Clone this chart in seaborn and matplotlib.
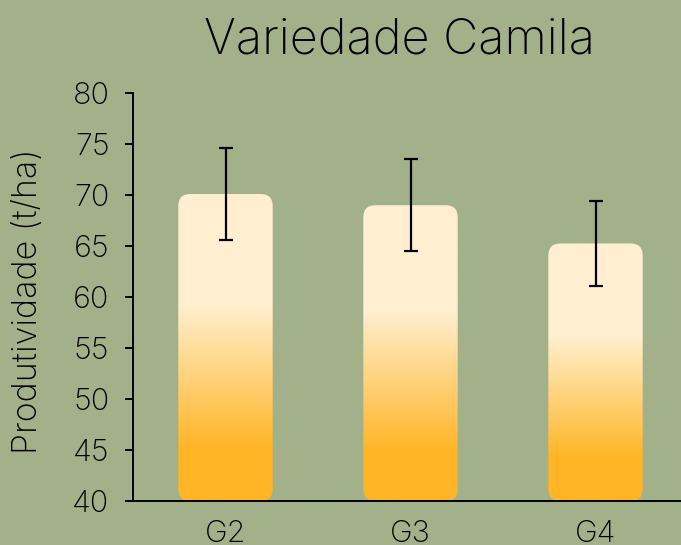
import numpy as np
import pandas as pd
import seaborn as sns
import matplotlib.pyplot as plt
from matplotlib.colors import LinearSegmentedColormap
from matplotlib.patches import FancyBboxPatch

# Data
grupos = ['G2', 'G3', 'G4']
produtividade = [70.1, 69.0, 65.25]
erro = [4.55, 4.5, 4.2]

df = pd.DataFrame({'grupo': grupos, 'produtividade': produtividade})

bg = '#A3B18A'
laranja = '#FFB526'
creme = '#FFEFD0'

sns.set_theme(style='ticks')
plt.rcParams['font.family'] = ['Inter', 'DejaVu Sans']

fig = plt.figure(figsize=(6.81, 5.45), dpi=100)
fig.patch.set_facecolor(bg)
ax = fig.add_axes([0.1953, 0.0807, 0.815, 0.7486])
ax.set_facecolor(bg)

sns.barplot(data=df, x='grupo', y='produtividade', width=0.51, color=laranja, ax=ax)

ax.set_xlim(-0.5, 2.5)
ax.set_ylim(40, 80)

# gradient colormap: orange at base, cream at top
cmap = LinearSegmentedColormap.from_list(
    'grad', [(0, laranja), (0.17, laranja), (0.64, creme), (1, creme)])
grad = np.linspace(0, 1, 256).reshape(-1, 1)

# rounded corners in pixel terms -> data units
px_x = 555 / 3.0
px_y = 408 / 40.0
raio = 12 / px_x
aspecto = px_x / px_y

for p in list(ax.patches):
    x0, w, h = p.get_x(), p.get_width(), p.get_height()
    p.set_visible(False)
    caixa = FancyBboxPatch((x0, 40), w, h - 40,
                           boxstyle=f'round,pad=0,rounding_size={raio}',
                           mutation_aspect=aspecto,
                           facecolor='none', edgecolor='none',
                           transform=ax.transData)
    ax.add_patch(caixa)
    im = ax.imshow(grad, extent=[x0, x0 + w, 40, h], origin='lower',
                   aspect='auto', cmap=cmap, zorder=2)
    im.set_clip_path(caixa)

ax.errorbar(range(len(grupos)), produtividade, yerr=erro, fmt='none',
            ecolor='black', elinewidth=1.6, capsize=5, capthick=1.6, zorder=3)

ax.set_xlim(-0.5, 2.5)
ax.set_ylim(40, 80)
ax.set_yticks(range(40, 81, 5))

sns.despine(ax=ax)
for s in ['left', 'bottom']:
    ax.spines[s].set_linewidth(1.4)
    ax.spines[s].set_color('black')

ax.tick_params(axis='y', length=6, width=1.4, labelsize=22, pad=11, colors='black')
ax.tick_params(axis='x', length=0, labelsize=22, pad=14, colors='black')
for lab in ax.get_xticklabels() + ax.get_yticklabels():
    lab.set_fontweight('light')

ax.set_xlabel('')
ax.set_ylabel('Produtividade (t/ha)', fontsize=24.5, color='black', fontweight='light')
ax.yaxis.set_label_coords(-0.16, 0.489)

fig.text(400 / 681, 1 - 53 / 545, 'Variedade Camila', ha='center',
         va='baseline', fontsize=35, color='black', fontweight='light')

fig.savefig('out.png', dpi=100, facecolor=bg)
